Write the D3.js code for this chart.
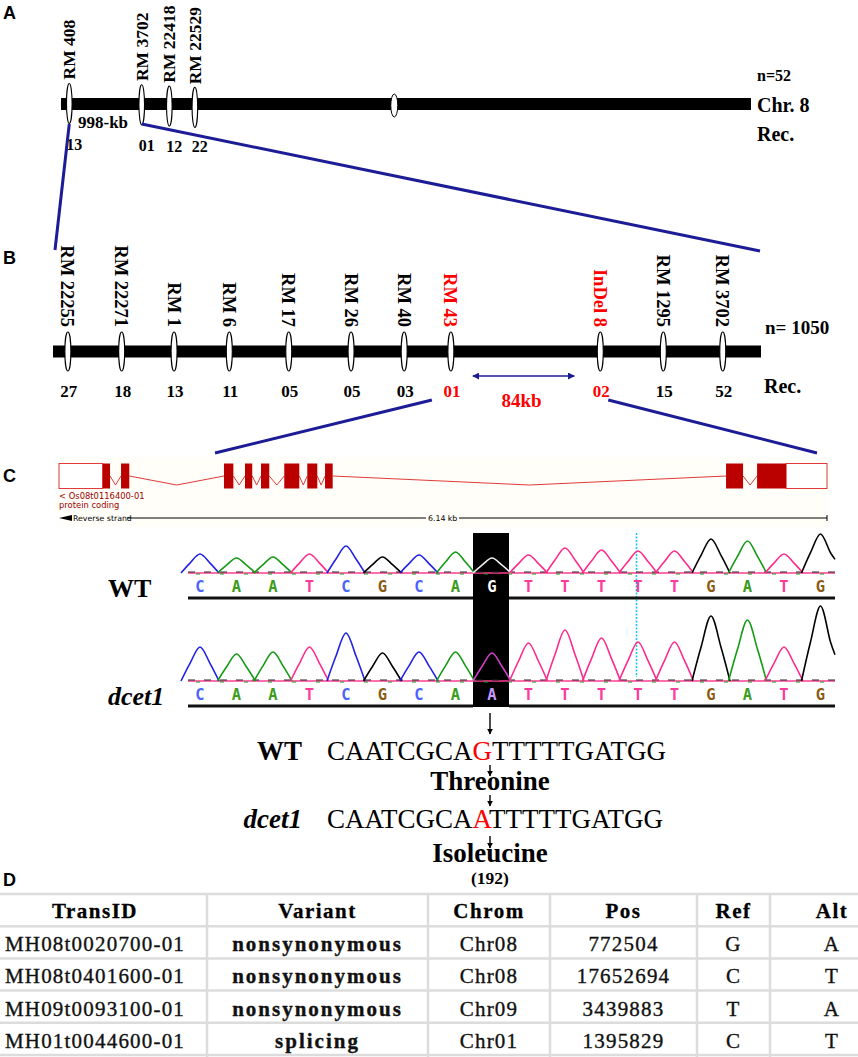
<!DOCTYPE html>
<html lang="en">
<head>
<meta charset="UTF-8">
<title>dcet1 fine mapping</title>
<script src="https://d3js.org/d3.v7.min.js"></script>
<style>
  html, body { margin: 0; background: #fff; overflow: hidden; }
  svg { font-family: "Liberation Serif", "Times New Roman", serif; }
  .panel { font-family: "Liberation Sans", Arial, sans-serif; font-weight: bold; font-size: 18px; }
  .b { font-weight: bold; }
  .small { font-family: "DejaVu Sans", Verdana, sans-serif; }
  .base { font-family: "DejaVu Sans Mono", "Liberation Mono", monospace; font-weight: bold; }
</style>
</head>
<body>
<svg id="svg"></svg>
<script>
// ---------- data ----------
// Panel A: markers on Chr. 8, position as % of the drawn chromosome
const markersA = ['RM 408', 'RM 3702', 'RM 22418', 'RM 22529'];
const posA = [1.2, 11.7, 15.7, 19.4];
const recA = ['13', '01', '12', '22'];
const centromereA = 48.3;

// Panel B: fine map
const markersB = ['RM 22255', 'RM 22271', 'RM 1', 'RM 6', 'RM 17', 'RM 26', 'RM 40', 'RM 43', 'InDel 8', 'RM 1295', 'RM 3702'];
const posB = [2.1, 9.7, 17.1, 24.9, 33.3, 42.1, 49.6, 56.2, 77.3, 86.2, 94.6];
const recB = ['27', '18', '13', '11', '05', '05', '03', '01', '02', '15', '52'];
const keyB = ['RM 43', 'InDel 8'];

// Panel C: gene model (kb)
const geneLengthKb = 6.14;
const utrKb = [[0, 0.349], [5.813, 6.14]];
const exonKb = [[0.349, 0.408], [0.496, 0.562], [1.319, 1.394], [1.487, 1.545], [1.615, 1.681],
                [1.801, 1.921], [1.985, 2.065], [2.127, 2.188], [5.333, 5.469], [5.581, 5.813]];

// chromatograms
const basesWT = 'CAATCGCAGTTTTTGATG'.split('');
const basesMut = 'CAATCGCAATTTTTGATG'.split('');
const peaksWT = [190, 150, 160, 190, 270, 160, 180, 210, 150, 180, 250, 230, 220, 220, 340, 320, 190, 390];
const peaksMut = [340, 270, 290, 340, 480, 280, 290, 290, 280, 380, 510, 430, 390, 390, 650, 610, 340, 750];
const snpIndex = 8;
const seqWT = 'CAATCGCAGTTTTTGATGG';
const seqMut = 'CAATCGCAATTTTTGATGG';

// Panel D table
const tableHeader = ['TransID', 'Variant', 'Chrom', 'Pos', 'Ref', 'Alt'];
const transIds = ['MH08t0020700-01', 'MH08t0401600-01', 'MH09t0093100-01', 'MH01t0044600-01'];
const variants = ['nonsynonymous', 'nonsynonymous', 'nonsynonymous', 'splicing'];
const chroms = ['Chr08', 'Chr08', 'Chr09', 'Chr01'];
const positions = ['772504', '17652694', '3439883', '1395829'];
const refs = ['G', 'C', 'T', 'C'];
const alts = ['A', 'T', 'A', 'T'];

// ---------- setup ----------
const W = 858, H = 1057;
const svg = d3.select('#svg').attr('width', W).attr('height', H);
const blue = '#1c1c96';

const defs = svg.append('defs');
[['arrowBlue', blue, 7], ['arrowBlack', '#000', 6]].forEach(([id, c, s]) => {
  defs.append('marker').attr('id', id).attr('viewBox', '0 0 10 10').attr('refX', 9).attr('refY', 5)
    .attr('markerWidth', s).attr('markerHeight', s).attr('markerUnits', 'userSpaceOnUse').attr('orient', 'auto-start-reverse')
    .append('path').attr('d', 'M0,0 L10,5 L0,10 z').attr('fill', c);
});

const panelLabels = [['A', 19], ['B', 264], ['C', 482], ['D', 886]];
svg.selectAll('.panel').data(panelLabels).join('text').attr('class', 'panel')
  .attr('x', 3).attr('y', d => d[1]).text(d => d[0]);

// ---------- Panel A ----------
const aX = d3.scaleLinear().domain([0, 100]).range([61, 751]);
const gA = svg.append('g');
gA.append('rect').attr('x', aX(0)).attr('y', 98).attr('width', aX(100) - aX(0)).attr('height', 12).attr('fill', '#000');
gA.append('ellipse').attr('cx', aX(centromereA)).attr('cy', 105.5).attr('rx', 3.5).attr('ry', 11.5)
  .attr('fill', '#fff').attr('stroke', '#000').attr('stroke-width', 1);
const mA = gA.selectAll('.mA').data(markersA).join('g').attr('class', 'mA')
  .attr('transform', (d, i) => `translate(${aX(posA[i])},0)`);
mA.append('ellipse').attr('cy', (d, i) => 103.5 + i * 1.3).attr('rx', 2.8).attr('ry', 20)
  .attr('fill', '#fff').attr('stroke', '#000').attr('stroke-width', 1.1);
mA.append('text').attr('class', 'b').attr('font-size', 17.5)
  .attr('transform', (d, i) => `translate(0,${79.5 + i * 1.6}) rotate(-90)`).attr('dy', '0.35em').text(d => d);
mA.append('text').attr('class', 'b').attr('font-size', 16).attr('x', 5).attr('y', (d, i) => 150 + i * 0.8)
  .attr('text-anchor', 'middle').text((d, i) => recA[i]);
gA.append('text').attr('class', 'b').attr('font-size', 17).attr('x', 78).attr('y', 128).text('998-kb');
gA.append('text').attr('class', 'b').attr('font-size', 16).attr('x', 757).attr('y', 81).text('n=52');
gA.append('text').attr('class', 'b').attr('font-size', 20).attr('x', 757).attr('y', 112).text('Chr. 8');
gA.append('text').attr('class', 'b').attr('font-size', 20).attr('x', 757).attr('y', 141).text('Rec.');

// ---------- Panel B ----------
const bX = d3.scaleLinear().domain([0, 100]).range([53, 761]);
const gB = svg.append('g');
gB.append('rect').attr('x', bX(0)).attr('y', 345.5).attr('width', bX(100) - bX(0)).attr('height', 12).attr('fill', '#000');
const mB = gB.selectAll('.mB').data(markersB).join('g').attr('class', 'mB')
  .attr('transform', (d, i) => `translate(${bX(posB[i])},0)`);
mB.append('ellipse').attr('cy', 351.5).attr('rx', 3).attr('ry', 19.5)
  .attr('fill', '#fff').attr('stroke', '#000').attr('stroke-width', 1.1);
mB.append('text').attr('class', 'b').attr('font-size', 18.5)
  .attr('fill', d => keyB.includes(d) ? '#ff0000' : '#000')
  .attr('transform', 'translate(0,327) rotate(90)').attr('text-anchor', 'end').attr('dy', '0.35em').text(d => d);
mB.append('text').attr('class', 'b').attr('font-size', 17).attr('x', 1).attr('y', 397)
  .attr('text-anchor', 'middle').attr('fill', d => keyB.includes(d) ? '#ff0000' : '#000')
  .text((d, i) => recB[i]);
gB.append('text').attr('class', 'b').attr('font-size', 19).attr('x', 765).attr('y', 334).text('n= 1050');
gB.append('text').attr('class', 'b').attr('font-size', 20).attr('x', 764).attr('y', 393).text('Rec.');
const iL = markersB.indexOf('RM 43'), iR = markersB.indexOf('InDel 8');
gB.append('line').attr('x1', bX(posB[iL]) + 22).attr('x2', bX(posB[iR]) - 26).attr('y1', 376).attr('y2', 376)
  .attr('stroke', blue).attr('stroke-width', 1.6)
  .attr('marker-start', 'url(#arrowBlue)').attr('marker-end', 'url(#arrowBlue)');
gB.append('text').attr('class', 'b').attr('font-size', 19).attr('fill', '#ff0000').attr('text-anchor', 'middle')
  .attr('x', (bX(posB[iL]) + bX(posB[iR])) / 2 - 4).attr('y', 407).text('84kb');

// connectors
const connectors = [
  [[aX(posA[0]), 124], [bX(0) + 2, 250]],
  [[aX(posA[1]), 124], [bX(100) - 1, 251]],
  [[bX(posB[iL]) - 19, 400], [215, 453]],
  [[bX(posB[iR]) + 8, 400], [817, 453]]
];
svg.selectAll('.conn').data(connectors).join('line').attr('class', 'conn')
  .attr('x1', d => d[0][0]).attr('y1', d => d[0][1]).attr('x2', d => d[1][0]).attr('y2', d => d[1][1])
  .attr('stroke', blue).attr('stroke-width', 3);

// ---------- Panel C gene model ----------
const geneX = d3.scaleLinear().domain([0, geneLengthKb]).range([59, 827]);
const gC = svg.append('g');
gC.append('rect').attr('x', 57).attr('y', 457).attr('width', 773).attr('height', 70).attr('fill', '#fffef8');
const gy = 476, gh = 25;
const blocks = utrKb.concat(exonKb).sort((a, b) => a[0] - b[0]);
const introns = [];
for (let i = 0; i < blocks.length - 1; i++) {
  if (blocks[i + 1][0] > blocks[i][1]) introns.push([blocks[i][1], blocks[i + 1][0]]);
}
gC.selectAll('.intron').data(introns).join('polyline').attr('class', 'intron')
  .attr('points', d => `${geneX(d[0])},${gy} ${(geneX(d[0]) + geneX(d[1])) / 2},${gy + 9} ${geneX(d[1])},${gy}`)
  .attr('fill', 'none').attr('stroke', '#e03a3a').attr('stroke-width', 1);
gC.selectAll('.utr').data(utrKb).join('rect').attr('class', 'utr')
  .attr('x', d => geneX(d[0])).attr('width', d => geneX(d[1]) - geneX(d[0]))
  .attr('y', gy - gh / 2).attr('height', gh).attr('fill', '#fff').attr('stroke', '#e03a3a').attr('stroke-width', 1);
gC.selectAll('.exon').data(exonKb).join('rect').attr('class', 'exon')
  .attr('x', d => geneX(d[0])).attr('width', d => geneX(d[1]) - geneX(d[0]))
  .attr('y', gy - gh / 2).attr('height', gh).attr('fill', '#bb0000');
gC.append('text').attr('class', 'small').attr('x', 59).attr('y', 499).attr('font-size', 8.4)
  .attr('fill', '#a00000').text('< Os08t0116400-01');
gC.append('text').attr('class', 'small').attr('x', 59).attr('y', 508).attr('font-size', 8.4)
  .attr('fill', '#a00000').text('protein coding');
gC.append('path').attr('d', 'M59,518 L72,515 L72,521 z').attr('fill', '#000');
gC.append('text').attr('class', 'small').attr('x', 73).attr('y', 521).attr('font-size', 7.8).text('Reverse strand');
gC.append('line').attr('x1', 127).attr('x2', 426).attr('y1', 518).attr('y2', 518).attr('stroke', '#000');
gC.append('text').attr('class', 'small').attr('x', 428).attr('y', 521).attr('font-size', 7.8).text('6.14 kb');
gC.append('line').attr('x1', 459).attr('x2', geneX(geneLengthKb)).attr('y1', 518).attr('y2', 518).attr('stroke', '#000');
gC.append('line').attr('x1', geneX(geneLengthKb)).attr('x2', geneX(geneLengthKb)).attr('y1', 515).attr('y2', 521).attr('stroke', '#000');

// ---------- chromatograms ----------
const chromX = d3.scaleLinear().domain([0, basesWT.length - 1]).range([200, 820.5]);
const peakH = d3.scaleLinear().domain([0, 1000]).range([0, 100]);
const traceColor = { A: '#139a13', C: '#2121e6', G: '#000000', T: '#ff2a8c' };
const letterColor = { A: '#3c9c1c', C: '#4a62ff', G: '#8a5a12', T: '#ff3a9a' };
const peakLine = d3.line().curve(d3.curveCatmullRom.alpha(0.5));
const gT = svg.append('g');
const boxX0 = chromX(snpIndex) - 19, boxX1 = chromX(snpIndex) + 17;
gT.append('rect').attr('x', boxX0).attr('width', boxX1 - boxX0).attr('y', 533).attr('height', 174).attr('fill', '#000');
gT.append('line').attr('x1', chromX(12) - 1.5).attr('x2', chromX(12) - 1.5).attr('y1', 533).attr('y2', 677)
  .attr('stroke', '#16c8ff').attr('stroke-width', 1.6).attr('stroke-dasharray', '2,1.5');

const rows = [
  { name: 'WT', italic: false, bases: basesWT, peaks: peaksWT, base: 573, letterY: 592, lineY: 598, hiTrace: '#eeeeee', hiLetter: '#ffffff' },
  { name: 'dcet1', italic: true, bases: basesMut, peaks: peaksMut, base: 681, letterY: 700, lineY: 706, hiTrace: '#d040c8', hiLetter: '#c49cff' }
];
rows.forEach(r => {
  const g = gT.append('g');
  g.append('line').attr('x1', 188).attr('x2', 835).attr('y1', r.base).attr('y2', r.base)
    .attr('stroke', '#ff3c90').attr('stroke-width', 1.6);
  g.append('line').attr('x1', 188).attr('x2', 835).attr('y1', r.base - 1).attr('y2', r.base - 1)
    .attr('stroke', '#222').attr('stroke-width', 1).attr('stroke-dasharray', '7,9');
  g.append('line').attr('x1', 196).attr('x2', 835).attr('y1', r.base + 1).attr('y2', r.base + 1)
    .attr('stroke', '#1a9a1a').attr('stroke-width', 1).attr('stroke-dasharray', '4,20');
  g.selectAll('.peak').data(r.bases).join('path').attr('class', 'peak')
    .attr('d', (b, i) => {
      const cx = chromX(i), h = peakH(r.peaks[i]), y0 = r.base;
      const right = Math.min(cx + 19, 835);
      return peakLine([[cx - 19, y0], [cx - 10, y0 - h * 0.52], [cx, y0 - h], [cx + 10, y0 - h * 0.52], [right, right < cx + 19 ? y0 - h * 0.35 : y0]]);
    })
    .attr('fill', 'none').attr('stroke-width', 1.6)
    .attr('stroke', (b, i) => i === snpIndex ? r.hiTrace : traceColor[b]);
  g.selectAll('.letter').data(r.bases).join('text').attr('class', 'letter base')
    .attr('x', (b, i) => chromX(i)).attr('y', r.letterY).attr('text-anchor', 'middle').attr('font-size', 15.5)
    .attr('fill', (b, i) => i === snpIndex ? r.hiLetter : letterColor[b]).text(b => b);
  g.append('rect').attr('x', 188).attr('width', boxX0 - 188).attr('y', r.lineY - 1.5).attr('height', 3).attr('fill', '#111');
  g.append('rect').attr('x', boxX1).attr('width', 835 - boxX1).attr('y', r.lineY - 1.5).attr('height', 3).attr('fill', '#111');
  g.append('text').attr('x', 108).attr('y', r.lineY - 1).attr('font-size', 26).attr('font-weight', 'bold')
    .attr('font-style', r.italic ? 'italic' : 'normal').text(r.name);
});

// ---------- sequence + amino acids ----------
const gS = svg.append('g');
const snpX = chromX(snpIndex) - 2;
const seqRows = [
  { label: 'WT', italic: false, seq: seqWT, y: 760, aa: 'Threonine', aaY: 790 },
  { label: 'dcet1', italic: true, seq: seqMut, y: 828, aa: 'Isoleucine', aaY: 862 }
];
seqRows.forEach(r => {
  gS.append('text').attr('x', 302).attr('y', r.y).attr('text-anchor', 'end').attr('font-size', 27)
    .attr('font-weight', 'bold').attr('font-style', r.italic ? 'italic' : 'normal').text(r.label);
  const t = gS.append('text').attr('x', 327).attr('y', r.y).attr('font-size', 27);
  t.append('tspan').text(r.seq.slice(0, snpIndex));
  t.append('tspan').attr('fill', '#ff0000').text(r.seq[snpIndex]);
  t.append('tspan').text(r.seq.slice(snpIndex + 1));
  gS.append('text').attr('x', snpX).attr('y', r.aaY).attr('text-anchor', 'middle').attr('font-size', 27)
    .attr('font-weight', 'bold').text(r.aa);
});
gS.append('text').attr('x', snpX).attr('y', 884).attr('text-anchor', 'middle').attr('font-size', 17.5)
  .attr('font-weight', 'bold').text('(192)');
const arrows = [[713, 734], [765, 776], [795, 806], [836, 848]];
gS.selectAll('.arr').data(arrows).join('line').attr('class', 'arr')
  .attr('x1', snpX).attr('x2', snpX).attr('y1', d => d[0]).attr('y2', d => d[1])
  .attr('stroke', '#000').attr('stroke-width', 1.4).attr('marker-end', 'url(#arrowBlack)');

// ---------- Panel D table ----------
const colEdges = [-17, 207, 428, 550, 697, 770, 894];
const tableTop = 894, rowH = 32.2;
const colMid = i => (colEdges[i] + colEdges[i + 1]) / 2;
const tableRows = transIds.map((id, i) => [id, variants[i], chroms[i], positions[i], refs[i], alts[i]]);
const gD = svg.append('g');
const nRows = tableRows.length + 1;
gD.selectAll('.hline').data(d3.range(nRows + 1)).join('line').attr('class', 'hline')
  .attr('x1', 0).attr('x2', W).attr('y1', i => tableTop + i * rowH).attr('y2', i => tableTop + i * rowH)
  .attr('stroke', '#dcdcdc').attr('stroke-width', 2.5);
gD.selectAll('.vline').data(colEdges.slice(1, -1)).join('line').attr('class', 'vline')
  .attr('x1', d => d).attr('x2', d => d).attr('y1', tableTop).attr('y2', H)
  .attr('stroke', '#dcdcdc').attr('stroke-width', 2.5);
gD.selectAll('.th').data(tableHeader).join('text').attr('class', 'th')
  .attr('x', (d, i) => colMid(i)).attr('y', tableTop + 24).attr('text-anchor', 'middle')
  .attr('font-size', 21).attr('font-weight', 'bold').attr('letter-spacing', 1.5)
  .attr('stroke', '#000').attr('stroke-width', 0.3).text(d => d);
tableRows.forEach((row, r) => {
  gD.selectAll('.td' + r).data(row).join('text').attr('class', 'td' + r)
    .attr('x', (d, i) => colMid(i)).attr('y', tableTop + (r + 1) * rowH + 25).attr('text-anchor', 'middle')
    .attr('font-size', 21).attr('fill', '#111').attr('stroke', '#111').attr('stroke-width', 0.35)
    .attr('font-weight', (d, i) => i === 1 ? 'bold' : 'normal')
    .attr('letter-spacing', (d, i) => i === 1 ? 2 : 1.2).text(d => d);
});
</script>
</body>
</html>
